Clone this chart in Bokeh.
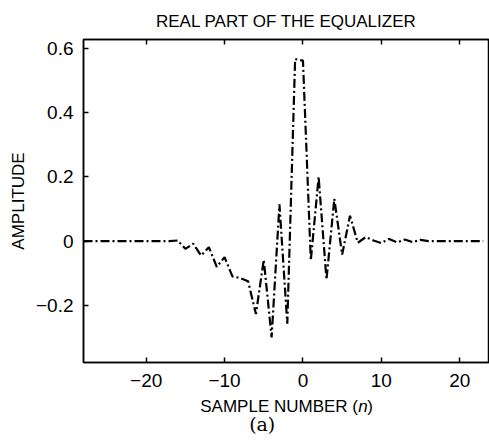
from bokeh.plotting import figure
from bokeh.models import Range1d, FixedTicker, LinearAxis, Label
from bokeh.layouts import column
from bokeh.embed import file_html
from bokeh.resources import INLINE

# ---- data ----
n = list(range(-28, 24))
amp_neg_tail = [0.0] * 11  # n = -28 .. -18
amp_mid = [
    0.0,     # -17
    0.002,   # -16
    -0.024,  # -15
    -0.008,  # -14
    -0.045,  # -13
    -0.019,  # -12
    -0.080,  # -11
    -0.050,  # -10
    -0.110,  # -9
    -0.115,  # -8
    -0.125,  # -7
    -0.227,  # -6
    -0.058,  # -5
    -0.300,  # -4
    0.115,   # -3
    -0.257,  # -2
    0.567,   # -1
    0.562,   # 0
    -0.060,  # 1
    0.200,   # 2
    -0.120,  # 3
    0.132,   # 4
    -0.042,  # 5
    0.079,   # 6
    -0.005,  # 7
    0.0125,  # 8
    0.002,   # 9
    -0.006,  # 10
    0.007,   # 11
    -0.004,  # 12
    0.005,   # 13
    -0.003,  # 14
    0.004,   # 15
]
amp_pos_tail = [0.0] * 8  # n = 16 .. 23
amplitude = amp_neg_tail + amp_mid + amp_pos_tail

x_ticks = [-20, -10, 0, 10, 20]
x_tick_labels = ["\u221220", "\u221210", "0", "10", "20"]
y_ticks = [-0.2, 0.0, 0.2, 0.4, 0.6]
y_tick_labels = ["\u22120.2", "0", "0.2", "0.4", "0.6"]

title_text = "REAL PART OF THE EQUALIZER"
ylabel_text = "AMPLITUDE"
xlabel_main = "SAMPLE NUMBER ("
xlabel_var = "n"
xlabel_close = ")"
sub_caption = "(a)"

FONT = "Liberation Sans"

p = figure(width=489, height=392, output_backend="svg", toolbar_location=None,
           x_range=Range1d(-28, 23.8), y_range=Range1d(-0.378, 0.628),
           min_border_left=83, min_border_right=0, min_border_top=39,
           min_border_bottom=30)
p.background_fill_color = "white"
p.border_fill_color = "white"
p.outline_line_color = "black"
p.outline_line_width = 1.5
p.xgrid.visible = False
p.ygrid.visible = False

p.title.text = title_text
p.title.text_font = FONT
p.title.text_font_size = "17px"
p.title.text_font_style = "normal"
p.title.text_color = "black"
p.title.align = "center"
p.title.standoff = 18

p.line(n, amplitude, line_color="black", line_width=2.2, line_dash="9 3 2 3")

def style_axis(ax, ticks, labels, show_labels=True):
    ax.ticker = FixedTicker(ticks=ticks)
    ax.major_label_overrides = {t: l for t, l in zip(ticks, labels)}
    ax.axis_line_color = "black"
    ax.axis_line_width = 1.5
    ax.major_tick_in = 5
    ax.major_tick_out = 0
    ax.major_tick_line_width = 1.5
    ax.minor_tick_line_color = None
    ax.major_label_text_font = FONT
    ax.major_label_text_color = "black"
    ax.major_label_text_font_size = "19px"
    if not show_labels:
        ax.major_label_text_font_size = "0px"
        ax.major_label_standoff = 0

style_axis(p.xaxis[0], x_ticks, x_tick_labels)
style_axis(p.yaxis[0], y_ticks, y_tick_labels)
p.xaxis[0].major_label_standoff = 11
p.yaxis[0].major_label_standoff = 10

p.yaxis[0].axis_label = ylabel_text
p.yaxis[0].axis_label_text_font = FONT
p.yaxis[0].axis_label_text_font_style = "normal"
p.yaxis[0].axis_label_text_font_size = "17px"
p.yaxis[0].axis_label_text_color = "black"
p.yaxis[0].axis_label_standoff = 5

top_ax = LinearAxis()
style_axis(top_ax, x_ticks, ["" for _ in x_ticks], show_labels=False)
p.add_layout(top_ax, "above")

# lower strip holding the x label (with italic n) and the caption;
# shares the x scale of the main plot
q = figure(width=489, height=48, output_backend="svg", toolbar_location=None,
           x_range=p.x_range, y_range=Range1d(0, 48),
           min_border_left=83, min_border_right=0, min_border_top=0,
           min_border_bottom=0, x_axis_type=None, y_axis_type=None)
q.outline_line_color = None
q.xgrid.visible = False
q.ygrid.visible = False
q.background_fill_color = "white"
q.border_fill_color = "white"

x0, yb = -13.1, 34
q.add_layout(Label(x=x0, y=yb, text=xlabel_main, text_align="left",
                   text_baseline="alphabetic", text_font=FONT,
                   text_font_size="17px", text_color="black"))
q.add_layout(Label(x=x0, y=yb, x_offset=158, text=xlabel_var, text_align="left",
                   text_baseline="alphabetic", text_font=FONT,
                   text_font_style="italic",
                   text_font_size="17px", text_color="black"))
q.add_layout(Label(x=x0, y=yb, x_offset=167, text=xlabel_close, text_align="left",
                   text_baseline="alphabetic", text_font=FONT,
                   text_font_size="17px", text_color="black"))
q.add_layout(Label(x=-5.2, y=17, text=sub_caption, text_align="center",
                   text_baseline="alphabetic", text_font="DejaVu Serif",
                   text_font_size="19px", text_color="black"))

layout = column(p, q, spacing=0)
open("out.html", "w").write(file_html(layout, INLINE))
